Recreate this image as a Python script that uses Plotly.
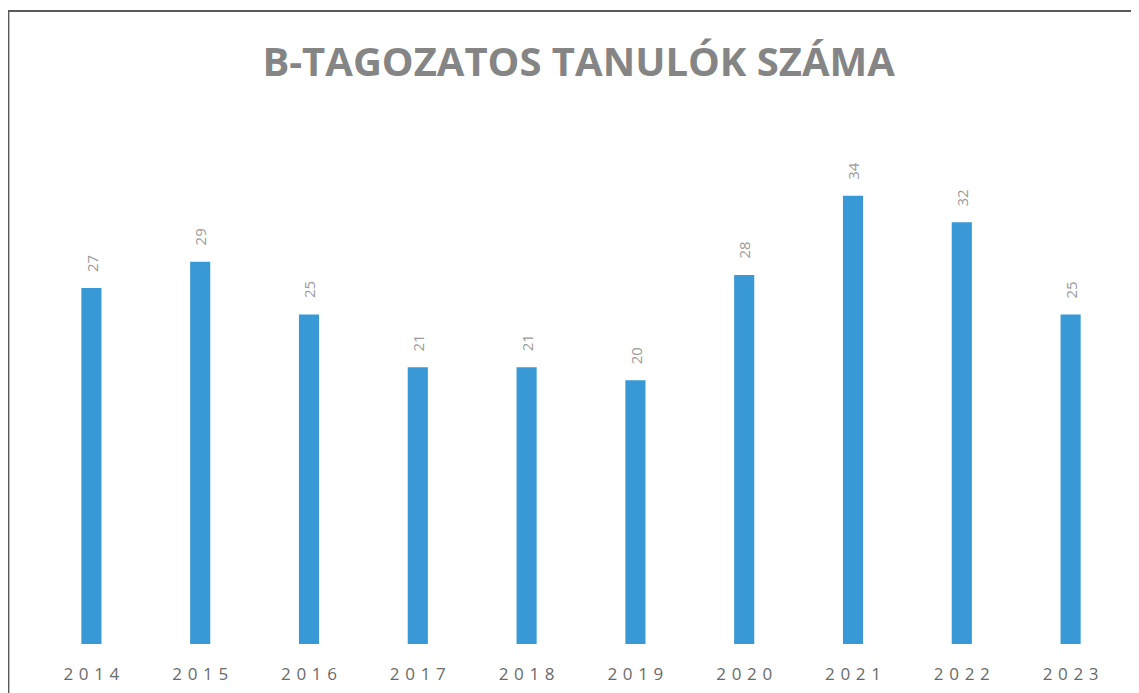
import plotly.graph_objects as go

years = ["2014", "2015", "2016", "2017", "2018", "2019", "2020", "2021", "2022", "2023"]
students = [27, 29, 25, 21, 21, 20, 28, 34, 32, 25]
tick_labels = ["\u2004".join(y) for y in years]
title_text = "B-TAGOZATOS TANULÓK SZÁMA"

fig = go.Figure()
fig.add_trace(go.Bar(
    x=years,
    y=students,
    marker=dict(color="#3899d6", line=dict(width=0)),
    hoverinfo="x+y",
))

annotations = [
    dict(
        x=i, y=val, xref="x", yref="y",
        text=str(val), showarrow=False, textangle=-90,
        yanchor="bottom", xanchor="center", yshift=14,
        font=dict(family="Open Sans", size=15, color="#9a9a9a"),
    )
    for i, val in enumerate(students)
]

fig.update_layout(
    width=1139,
    height=693,
    margin=dict(l=29, r=22, t=92, b=57, autoexpand=False),
    paper_bgcolor="white",
    plot_bgcolor="white",
    bargap=0.815,
    showlegend=False,
    annotations=annotations,
    title=dict(
        text=title_text,
        x=0.501,
        xanchor="center",
        y=0.922,
        yanchor="middle",
        font=dict(family="Open Sans", size=40, color="#858585", weight="bold"),
    ),
    xaxis=dict(
        type="category",
        tickmode="array",
        tickvals=years,
        ticktext=tick_labels,
        tickangle=0,
        showgrid=False,
        showline=False,
        zeroline=False,
        ticks="outside",
        ticklen=15,
        tickcolor="rgba(0,0,0,0)",
        tickfont=dict(family="Open Sans", size=17, color="#6a6a6a"),
    ),
    yaxis=dict(
        range=[0, 41.27],
        visible=False,
        showgrid=False,
        zeroline=False,
    ),
    shapes=[dict(
        type="rect",
        xref="paper",
        yref="paper",
        x0=-0.0263,
        x1=1.05,
        y0=-0.3,
        y1=1.1636,
        line=dict(color="#5a5a5a", width=2),
        fillcolor="rgba(0,0,0,0)",
        layer="below",
    )],
)

fig.write_html("out.html")
